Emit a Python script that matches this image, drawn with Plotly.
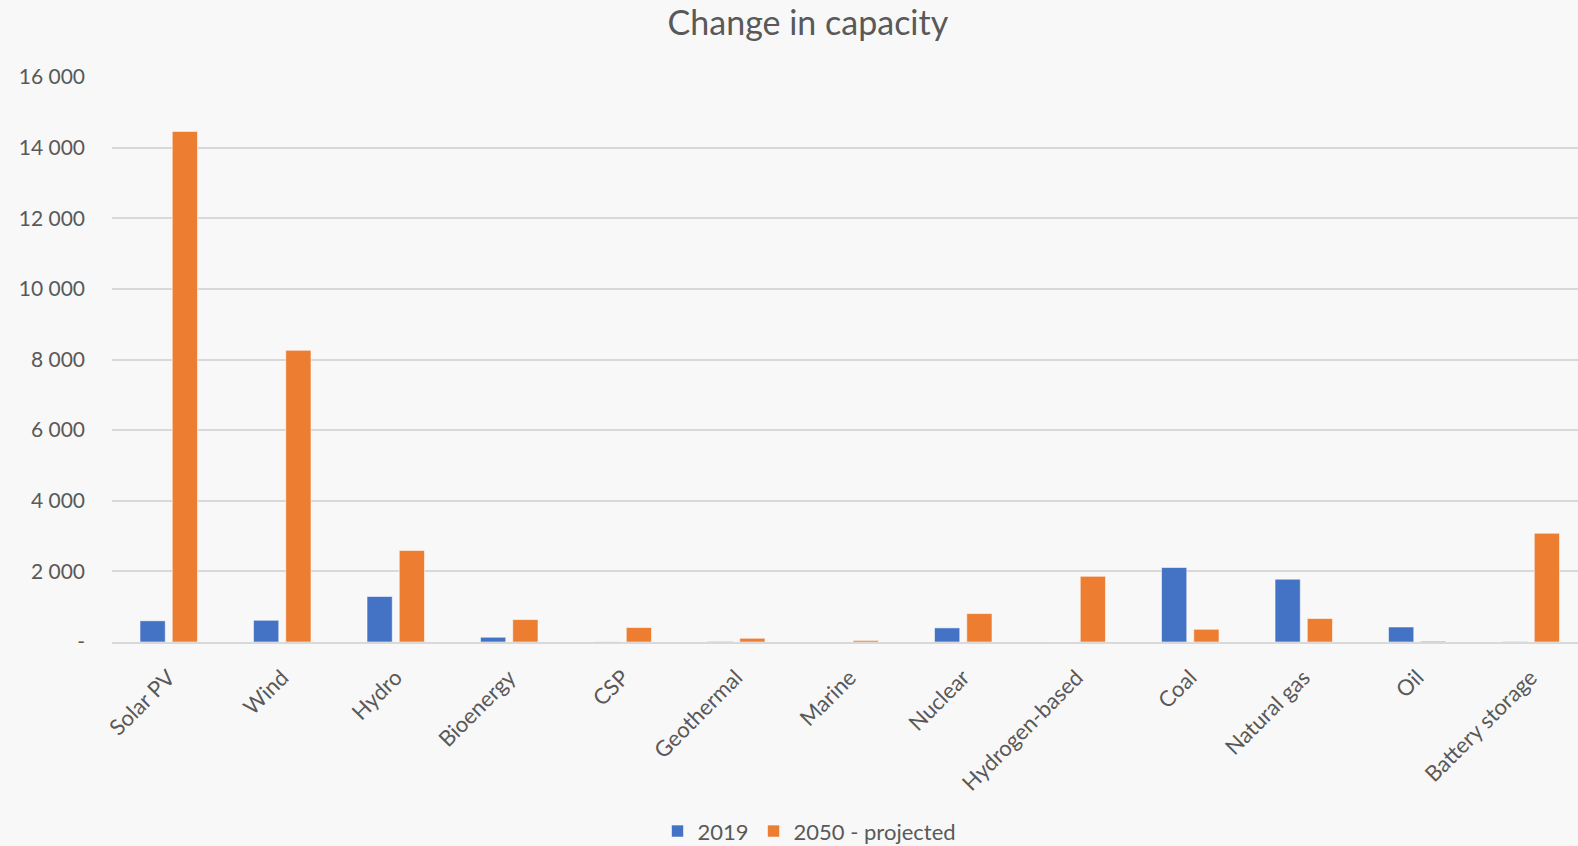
import plotly.graph_objects as go

categories = ["Solar PV", "Wind", "Hydro", "Bioenergy", "CSP", "Geothermal", "Marine",
              "Nuclear", "Hydrogen-based", "Coal", "Natural gas", "Oil", "Battery storage"]
values_2019 = [600, 615, 1290, 135, 6, 15, 1, 400, 0, 2110, 1780, 425, 10]
values_2050 = [14460, 8260, 2590, 635, 410, 105, 45, 805, 1860, 360, 665, 25, 3080]
series_names = ["2019", "2050 - projected"]
y_tickvals = [0, 2000, 4000, 6000, 8000, 10000, 12000, 14000, 16000]
y_ticktext = ["-", "2 000", "4 000", "6 000", "8 000", "10 000", "12 000", "14 000", "16 000"]

FONT = "Lato, 'Open Sans', sans-serif"
TEXT = "#595959"
BG = "#F8F8F8"

fig = go.Figure()
fig.add_trace(go.Bar(x=categories, y=values_2019, name=series_names[0],
                     marker=dict(color="#4472C4", line=dict(color="rgba(255,255,255,0.55)", width=1))))
fig.add_trace(go.Bar(x=categories, y=values_2050, name=series_names[1],
                     marker=dict(color="#ED7D31", line=dict(color="rgba(255,255,255,0.55)", width=1))))

fig.update_layout(
    width=1578, height=846,
    paper_bgcolor=BG, plot_bgcolor=BG,
    font=dict(family=FONT, color=TEXT, size=21),
    margin=dict(l=112, r=0, t=77, b=204, autoexpand=False),
    barmode="group", bargap=0.432, bargroupgap=0.217,
    title=dict(text="Change in capacity", x=0.512, xref="container", xanchor="center",
               y=1 - 23 / 846, yref="container", yanchor="middle",
               font=dict(size=34, color=TEXT, family=FONT)),
    legend=dict(orientation="h", xref="container", x=0.513, xanchor="center",
                y=-0.335, yanchor="middle", font=dict(size=22, color=TEXT),
                itemwidth=30, tracegroupgap=0, bgcolor="rgba(0,0,0,0)"),
    showlegend=True,
)
fig.update_xaxes(type="category", range=[-0.5, 12.416], tickangle=-45,
                 showgrid=False, showline=True, linecolor="#D9D9D9", linewidth=2,
                 ticks="", ticklabelstandoff=12, tickfont=dict(size=22, color=TEXT),
                 automargin=False, zeroline=False)
fig.update_yaxes(range=[0, 16000], tickvals=y_tickvals, ticktext=y_ticktext,
                 showgrid=True, gridcolor="#D9D9D9", gridwidth=1.5,
                 zeroline=False, showline=False, ticks="", ticklabelstandoff=26,
                 tickfont=dict(size=21, color=TEXT), automargin=False)

fig.write_html("out.html")
